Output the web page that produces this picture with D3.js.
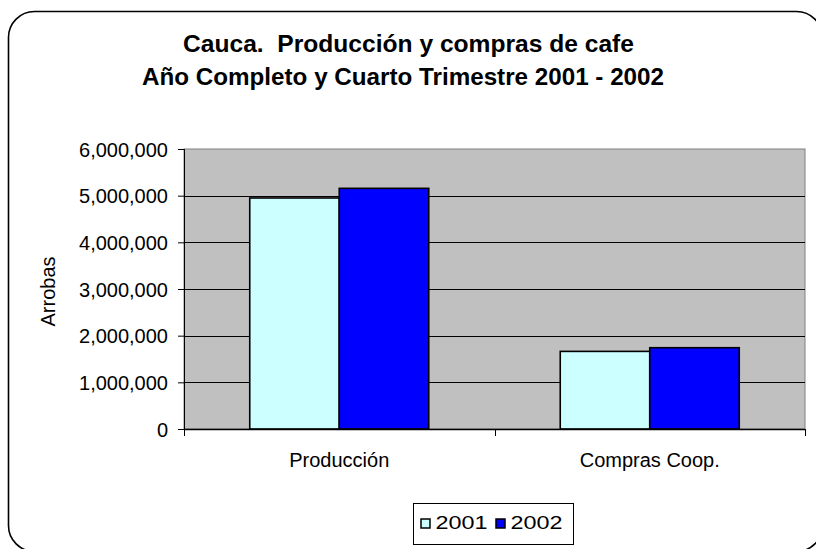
<!DOCTYPE html>
<html lang="es">
<head>
<meta charset="UTF-8">
<script src="https://d3js.org/d3.v7.min.js"></script>
<title>Cauca</title>
<style>
  body { margin: 0; padding: 0; background: #fff; }
  svg { display: block; font-family: Arial, "Liberation Sans", sans-serif; }
  .tit { white-space: pre; }
</style>
</head>
<body>
<div id="chart"></div>
<script>
  // datos
  let categorias = ["Producción", "Compras Coop."];
  let anios = ["2001", "2002"];
  let valores2001 = [4950000, 1663000];
  let valores2002 = [5157000, 1742000];
  let yTicks = [0, 1000000, 2000000, 3000000, 4000000, 5000000, 6000000];
  let colores = ["#CCFFFF", "#0000FF"];

  let width = 816, height = 549;
  let m = { left: 184, right: 805, top: 149, bottom: 429 };

  let svg = d3.select("#chart").append("svg")
    .attr("width", width)
    .attr("height", height);

  // marco redondeado del grafico
  svg.append("rect")
    .attr("x", 8.5).attr("y", 11.5)
    .attr("width", 814).attr("height", 540)
    .attr("rx", 26).attr("ry", 26)
    .attr("fill", "#fff")
    .attr("stroke", "#000")
    .attr("stroke-width", 1.6);

  // titulo
  let titulo = svg.append("g").attr("font-weight", "bold").attr("font-size", 23).attr("text-anchor", "middle");
  titulo.append("text").attr("class", "tit").attr("x", 408.5).attr("y", 52)
    .attr("textLength", 451).attr("lengthAdjust", "spacingAndGlyphs")
    .text("Cauca.  Producción y compras de cafe");
  titulo.append("text").attr("class", "tit").attr("x", 403).attr("y", 85)
    .attr("textLength", 522).attr("lengthAdjust", "spacingAndGlyphs")
    .text("Año Completo y Cuarto Trimestre 2001 - 2002");

  let y = d3.scaleLinear().domain([0, 6000000]).range([m.bottom, m.top]);
  let x0 = d3.scaleBand().domain(categorias).range([m.left, m.right]).padding(0);
  let x1 = d3.scaleBand().domain(anios).range([0, x0.bandwidth()]).paddingInner(0).paddingOuter(0.7346);

  // fondo del area de trazado
  svg.append("rect")
    .attr("x", m.left).attr("y", m.top)
    .attr("width", m.right - m.left).attr("height", m.bottom - m.top)
    .attr("fill", "#C0C0C0")
    .attr("stroke", "#808080").attr("stroke-width", 1);

  // lineas de division
  svg.append("g").selectAll("line").data(yTicks.slice(1, -1)).enter().append("line")
    .attr("x1", m.left).attr("x2", m.right)
    .attr("y1", d => Math.round(y(d)) + 0.5).attr("y2", d => Math.round(y(d)) + 0.5)
    .attr("stroke", "#000").attr("stroke-width", 1);

  // barras
  let filas = categorias.map((c, i) => ({ cat: c, vals: [valores2001[i], valores2002[i]] }));
  let grupos = svg.append("g").selectAll("g").data(filas).enter().append("g")
    .attr("transform", d => `translate(${x0(d.cat)},0)`);
  grupos.selectAll("rect").data(d => d.vals.map((v, j) => ({ anio: anios[j], v: v, j: j })))
    .enter().append("rect")
    .attr("x", d => x1(d.anio))
    .attr("y", d => y(d.v))
    .attr("width", x1.bandwidth())
    .attr("height", d => y(0) - y(d.v))
    .attr("fill", d => colores[d.j])
    .attr("stroke", "#000").attr("stroke-width", 1.6);

  // eje y
  let yAxis = d3.axisLeft(y).tickValues(yTicks).tickSize(6).tickPadding(10)
    .tickFormat(d3.format(","));
  let gy = svg.append("g").attr("transform", `translate(${m.left},0)`).call(yAxis);
  gy.select(".domain").attr("stroke", "#000").attr("d", `M0.5,${m.top}V${m.bottom}`);
  gy.selectAll(".tick line").attr("stroke", "#000");
  gy.selectAll("text").attr("font-size", 20).attr("fill", "#000")
    .attr("font-family", "Arial, 'Liberation Sans', sans-serif").attr("dy", "0.35em");

  // eje x
  let gx = svg.append("g").attr("transform", `translate(0,${m.bottom})`);
  gx.append("line").attr("x1", m.left).attr("x2", m.right).attr("y1", 0.5).attr("y2", 0.5)
    .attr("stroke", "#000").attr("stroke-width", 1.4);
  let bordes = [m.left, m.left + x0.step(), m.right];
  gx.selectAll(".tk").data(bordes).enter().append("line")
    .attr("x1", d => Math.round(d) + 0.5).attr("x2", d => Math.round(d) + 0.5)
    .attr("y1", 0).attr("y2", 7).attr("stroke", "#000");
  gx.selectAll(".lbl").data(categorias).enter().append("text")
    .attr("x", d => x0(d) + x0.bandwidth() / 2)
    .attr("y", 38)
    .attr("text-anchor", "middle")
    .attr("font-size", 20)
    .text(d => d);

  // titulo eje y
  svg.append("text")
    .attr("transform", "translate(55,291.5) rotate(-90)")
    .attr("text-anchor", "middle")
    .attr("font-size", 20)
    .text("Arrobas");

  // leyenda
  let ley = svg.append("g").attr("transform", "translate(413.5,503.5)");
  ley.append("rect").attr("width", 160).attr("height", 41)
    .attr("fill", "#fff").attr("stroke", "#000").attr("stroke-width", 1);
  let items = ley.selectAll(".it").data(anios).enter().append("g")
    .attr("transform", (d, i) => `translate(${7.5 + i * 75},15.5)`);
  items.append("rect").attr("width", 9).attr("height", 9)
    .attr("fill", (d, i) => colores[i]).attr("stroke", "#000").attr("stroke-width", 1.5);
  items.append("text").attr("x", 14.5).attr("y", 9.5)
    .attr("font-size", 19)
    .attr("textLength", 52).attr("lengthAdjust", "spacingAndGlyphs")
    .text(d => d);
</script>
</body>
</html>
